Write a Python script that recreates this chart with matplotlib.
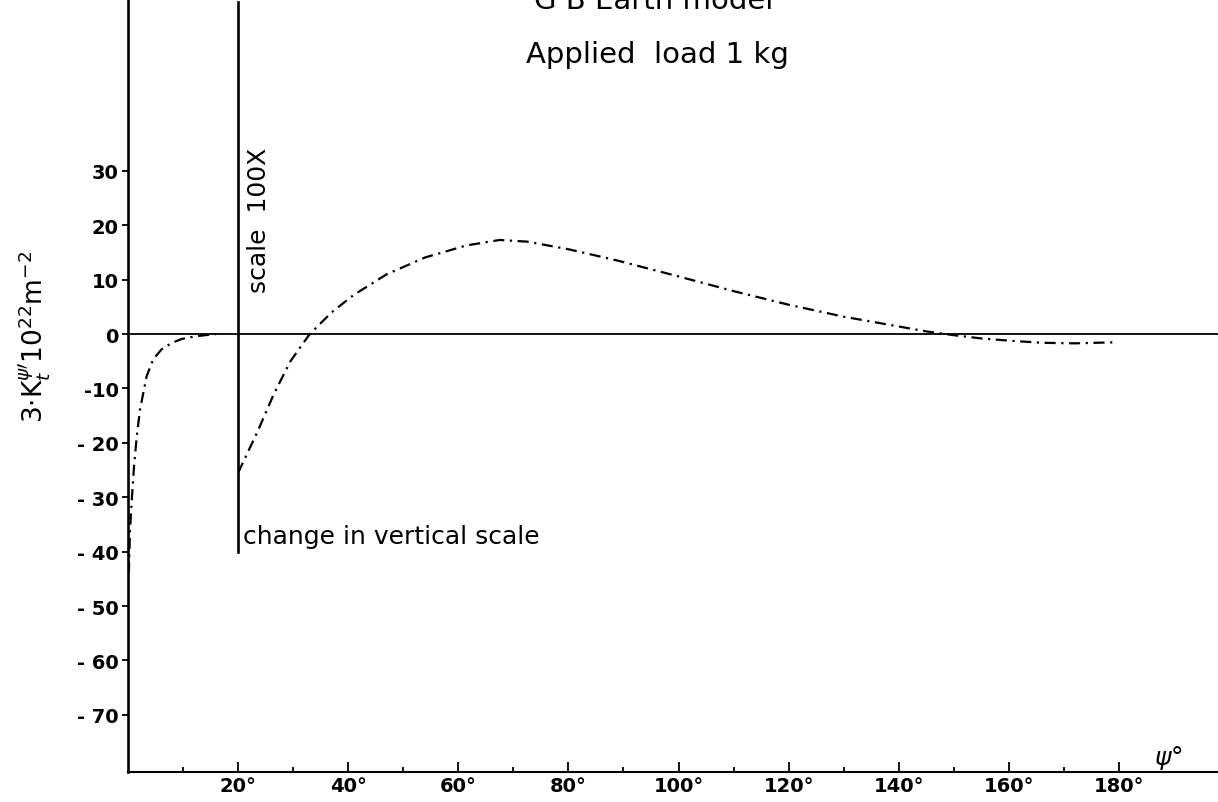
import numpy as np
import matplotlib
matplotlib.use("Agg")
import matplotlib.pyplot as plt
from matplotlib.ticker import FixedLocator, FixedFormatter

# true-scale curve near the load (psi in degrees)
psi_near = [0.15, 0.35, 0.7, 1.1, 1.6, 2.2, 2.8, 3.4, 4.6, 6.1, 8.0, 9.75, 12.0, 14.0, 16.0]
k_near = [-44, -36.4, -30.3, -24.2, -18.7, -13.8, -10.7, -7.7, -4.6, -2.8, -1.6, -0.9, -0.45, -0.2, 0.0]

# curve plotted at 100x vertical scale beyond 20 deg
psi_far = [20, 23.5, 26.5, 29.5, 33, 37, 41, 47, 54, 61.5, 67.5, 72.5, 80, 89, 100,
           110, 120, 130, 140, 145, 150, 155, 160, 166, 172, 179.5]
k_far = [-25.5, -18, -11, -5, 0, 4, 7.2, 11.0, 14.1, 16.3, 17.3, 17.0, 15.6, 13.5, 10.6,
         7.9, 5.4, 3.2, 1.4, 0.5, -0.2, -0.8, -1.2, -1.6, -1.7, -1.5]

yticks = [-70, -60, -50, -40, -30, -20, -10, 0, 10, 20, 30]
ytick_labels = ['- 70', '- 60', '- 50', '- 40', '- 30', '- 20', '-10', '0', '10', '20', '30']
xticks = [20, 40, 60, 80, 100, 120, 140, 160, 180]
xtick_labels = ['20°', '40°', '60°', '80°', '100°', '120°', '140°', '160°', '180°']
xminor = [10, 30, 50, 70, 90, 110, 130, 150, 170]

narrow = ['Liberation Sans Narrow', 'DejaVu Sans Condensed', 'DejaVu Sans']

fig = plt.figure(figsize=(12.18, 8.03), dpi=100)
ax = fig.add_axes([128/1218, 30/803, 1 - 128/1218, 1 - 30/803])
ax.set_xlim(0, 198)
ax.set_ylim(-80.5, 61.6)

for s in ['top', 'right']:
    ax.spines[s].set_visible(False)
ax.spines['left'].set_linewidth(1.9)
ax.spines['bottom'].set_linewidth(1.5)

ax.axhline(0, color='black', lw=1.3)
ax.plot([20, 20], [-40, 61], color='black', lw=1.9)

ls = (0, (5, 2.5, 1, 2.5))
ax.plot(psi_near, k_near, color='black', lw=1.6, linestyle=ls)
ax.plot(psi_far, k_far, color='black', lw=1.6, linestyle=ls)

ax.yaxis.set_major_locator(FixedLocator(yticks))
ax.yaxis.set_major_formatter(FixedFormatter(ytick_labels))
ax.xaxis.set_major_locator(FixedLocator(xticks))
ax.xaxis.set_major_formatter(FixedFormatter(xtick_labels))
ax.xaxis.set_minor_locator(FixedLocator(xminor))

ax.tick_params(axis='y', direction='out', length=4.5, width=1.3, pad=2,
               labelsize=14)
ax.tick_params(axis='x', which='major', direction='in', length=7, width=1.3,
               pad=3, labelsize=14)
ax.tick_params(axis='x', which='minor', direction='in', length=3.5, width=1.3)
for lab in ax.get_yticklabels() + ax.get_xticklabels():
    lab.set_fontweight('bold')

ax.text(21.6, 7.7, 'scale  100X', rotation=90, ha='left', va='bottom',
        fontsize=18, family=narrow)
ax.text(20.9, -37.1, 'change in vertical scale', ha='left', va='center',
        fontsize=18, family=narrow)
ax.text(189, -80.3, r'$\psi$°', ha='center', va='bottom', fontsize=18)

fig.text(0.028, (803-337)/803, r'3$\cdot$K$^{\psi\prime}_{t}$10$^{22}$m$^{-2}$',
         rotation=90, ha='center', va='center', fontsize=19, family=narrow)

fig.text(654/1218, (803-9)/803, 'G B Earth model', ha='center', va='baseline',
         fontsize=21, family=narrow)
fig.text(657/1218, (803-63)/803, 'Applied  load 1 kg', ha='center', va='baseline',
         fontsize=21, family=narrow)

fig.savefig('out.png', dpi=100)
